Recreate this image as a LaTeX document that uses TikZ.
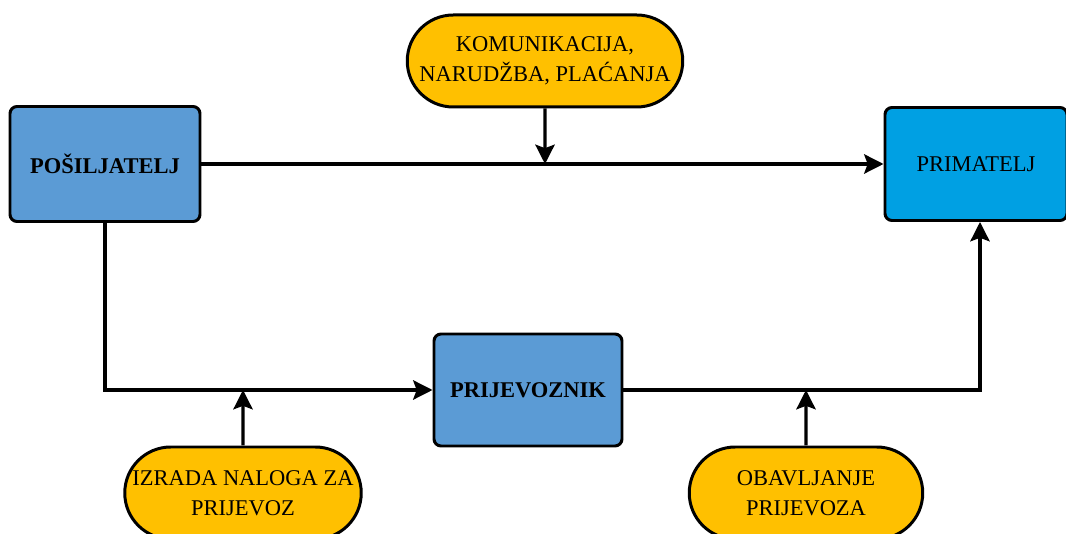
\documentclass[tikz,border=0pt]{standalone}
\usepackage{fontspec}
\setmainfont{Liberation Serif}
\usetikzlibrary{positioning, shapes, arrows.meta}

\definecolor{boxblue}{RGB}{91,155,213}
\definecolor{brightblue}{RGB}{0,160,227}
\definecolor{pillyellow}{RGB}{255,192,0}

\begin{document}
\begin{tikzpicture}[
		font=\fontsize{12.8}{17}\selectfont,
		box/.style={rectangle, rounded corners=4pt, draw=black, line width=1.7pt, fill=boxblue, align=center},
		pill/.style={rounded rectangle, draw=black, line width=1.7pt, fill=pillyellow, align=center, minimum width=4.8cm, minimum height=1.84cm, inner sep=1pt},
		link/.style={line width=1.8pt, -{Stealth[length=11pt, width=11pt, inset=2pt, fill=black]}}
	]
			\useasboundingbox (0,0) rectangle (21.32,10.68);

			\node (posilj) [box, minimum width=3.8cm, minimum height=2.3cm] at (2.10,7.40) {\textbf{POŠILJATELJ}};
			\node (primat) [box, fill=brightblue, minimum width=3.64cm, minimum height=2.26cm] at (19.52,7.40) {PRIMATELJ};
			\node (prijev) [box, minimum width=3.76cm, minimum height=2.24cm] at (10.56,2.88) {\textbf{PRIJEVOZNIK}};

			\node (komun) [pill, minimum width=5.58cm] at (10.90,9.46) {KOMUNIKACIJA,\\NARUDŽBA, PLAĆANJA};
			\node (nalog) [pill] at (4.86,0.82) {IZRADA NALOGA ZA\\PRIJEVOZ};
			\node (obavl) [pill, minimum width=4.74cm] at (16.12,0.82) {OBAVLJANJE\\PRIJEVOZA};

			\coordinate (k1) at (komun.south |- posilj.east);
			\coordinate (k2) at (nalog.north |- prijev.west);
			\coordinate (k3) at (obavl.north |- prijev.east);
			\coordinate (p1) at ([xshift=0.08cm]primat.south);

			\draw[link] (posilj) -- (primat);
			\draw[link] (posilj.south) |- (prijev.west);
			\draw[link] (prijev.east) -| (p1);

			\draw[link] (komun) -- (k1);
			\draw[link] (nalog) -- (k2);
			\draw[link] (obavl) -- (k3);
		\end{tikzpicture}
\end{document}
